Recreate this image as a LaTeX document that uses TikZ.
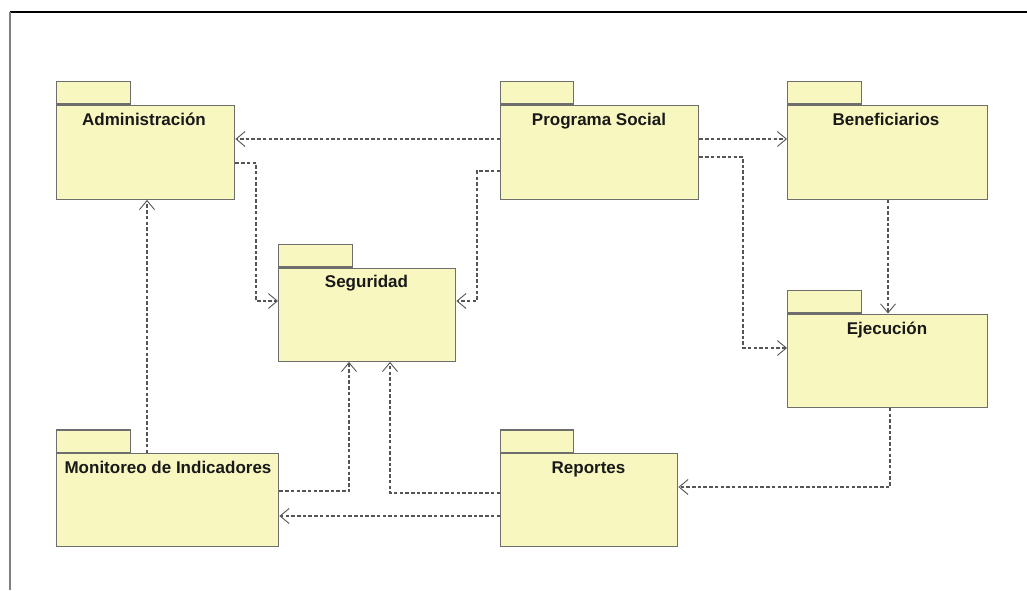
\documentclass[tikz,border=0pt]{standalone}
\usepackage{fontspec}
\setmainfont{Liberation Sans}
\usetikzlibrary{arrows.meta}
\definecolor{pkgfill}{RGB}{249,247,192}
\definecolor{pkgline}{RGB}{110,110,110}
\definecolor{depline}{RGB}{85,85,85}
\tikzset{
  pkgbody/.style={draw=pkgline, fill=pkgfill, line width=1.4pt, rectangle, inner sep=0pt, anchor=north west},
  pkgtab/.style={draw=pkgline, fill=pkgfill, line width=1.4pt, rectangle, inner sep=0pt, anchor=south west, minimum width=74pt, minimum height=22.5pt},
  pkglabel/.style={anchor=base, inner sep=0pt, font=\fontsize{17}{19}\selectfont\bfseries, text=black!90},
  dep/.style={draw=depline, line width=1.1pt, dash pattern=on 3.5pt off 2.2pt,
    -{Straight Barb[length=9pt,width=15pt,line width=0.9pt]}},
}
\begin{document}
\begin{tikzpicture}[x=1pt,y=-1pt]
\useasboundingbox (0,0) rectangle (1027,590);
% frame
\draw[black, line width=1.3pt] (10,12) -- (1027,12);
\draw[gray, line width=2pt] (10,12) -- (10,590);

% packages: body, tab, title
\node[pkgbody, minimum width=178pt, minimum height=94pt] (adm) at (56,104.5) {};
\node[pkgtab] (admtab) at (adm.north west) {};
\node[pkglabel] (admlbl) at (144,125) {Administración};

\node[pkgbody, minimum width=198pt, minimum height=94pt] (ps) at (500,104.5) {};
\node[pkgtab, minimum width=73pt] (pstab) at (ps.north west) {};
\node[pkglabel] (pslbl) at (599,125) {Programa Social};

\node[pkgbody, minimum width=200pt, minimum height=94pt] (ben) at (787,104.5) {};
\node[pkgtab] (bentab) at (ben.north west) {};
\node[pkglabel] (benlbl) at (886,125) {Beneficiarios};

\node[pkgbody, minimum width=177pt, minimum height=93pt] (seg) at (278,267.5) {};
\node[pkgtab] (segtab) at (seg.north west) {};
\node[pkglabel] (seglbl) at (366.5,287.5) {Seguridad};

\node[pkgbody, minimum width=200pt, minimum height=93pt] (eje) at (787,313.5) {};
\node[pkgtab] (ejetab) at (eje.north west) {};
\node[pkglabel] (ejelbl) at (887,334) {Ejecución};

\node[pkgbody, minimum width=222pt, minimum height=92.5pt] (mon) at (56,453) {};
\node[pkgtab] (montab) at (mon.north west) {};
\begin{scope}
  % the title is wider than the body, cut at its inner padding
  \clip (56,450) rectangle (270,545);
  \node[pkglabel] (monlbl) at (168,473) {Monitoreo de Indicadores};
\end{scope}

\node[pkgbody, minimum width=177pt, minimum height=92.5pt] (rep) at (500,453) {};
\node[pkgtab, minimum width=73pt] (reptab) at (rep.north west) {};
\node[pkglabel] (replbl) at (588.5,473) {Reportes};

% dependencies
\draw[dep] (ps.west |- 0,139) -- (adm.east |- 0,139);
\draw[dep] (adm.east |- 0,163) -| (256,301) -- (seg.west |- 0,301);
\draw[dep] (ps.west |- 0,171) -| (477,301) -- (seg.east |- 0,301);
\draw[dep] (ps.east |- 0,139) -- (ben.west |- 0,139);
\draw[dep] (ps.east |- 0,157) -| (743,348) -- (eje.west |- 0,348);
\draw[dep] (ben.south -| 888,0) -- (eje.north -| 888,0);
\draw[dep] (eje.south -| 890,0) |- (rep.east |- 0,487);
\draw[dep] (rep.west |- 0,493) -| (seg.south -| 390,0);
\draw[dep] (mon.east |- 0,491) -| (seg.south -| 349,0);
\draw[dep] (rep.west |- 0,516) -- (mon.east |- 0,516);
\draw[dep] (mon.north -| 147,0) -- (adm.south -| 147,0);
\end{tikzpicture}
\end{document}
